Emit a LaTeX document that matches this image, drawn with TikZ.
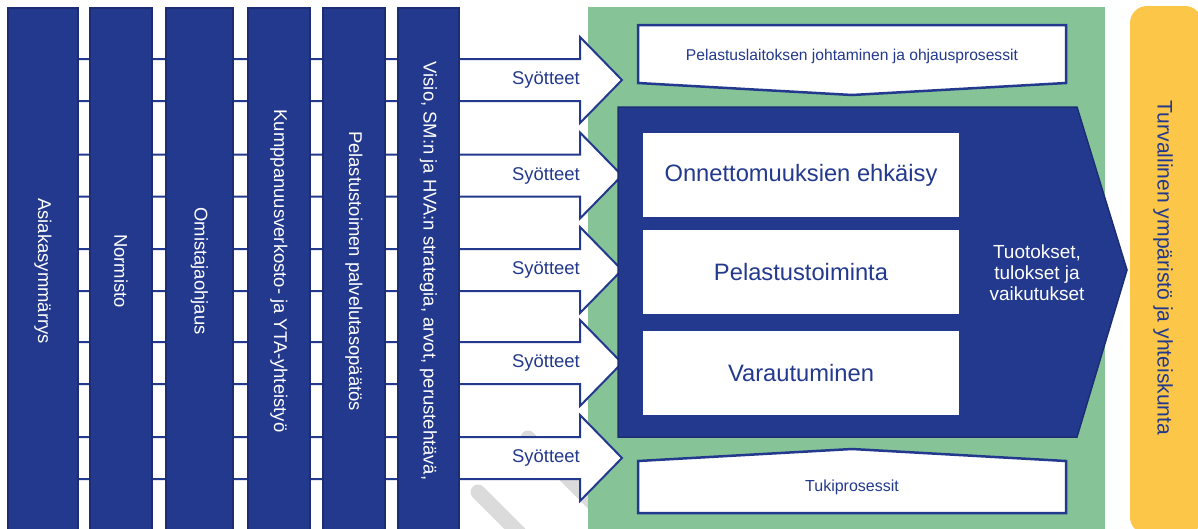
\documentclass[tikz,border=0pt]{standalone}
\usepackage{fontspec}
\setmainfont{Liberation Sans}
\usepackage{xcolor}
\usepackage{tikz}
\usetikzlibrary{positioning,calc}

\definecolor{navy}{RGB}{35,57,141}
\definecolor{navyline}{RGB}{28,45,115}
\definecolor{procgreen}{RGB}{134,196,152}
\definecolor{goalyellow}{RGB}{252,198,72}

\begin{document}
\begin{tikzpicture}[x=0.02cm,y=-0.02cm,
		colbox/.style={fill=navy,draw=navyline,line width=0.03cm},
		coltext/.style={text=white,font=\fontsize{10.5}{12}\selectfont,rotate=-90,inner sep=0pt},
		inarrow/.style={draw=navy,fill=white,line width=0.04cm,line join=miter},
		subbox/.style={draw=navy,fill=white,line width=0.05cm},
		corebox/.style={fill=white,text=navy,minimum width=6.32cm,minimum height=1.68cm,font=\fontsize{13.5}{15}\selectfont,inner sep=0pt}]
			\useasboundingbox (0,0) rectangle (1198,528);
			
			% watermark strokes
			\draw[black!14,line width=0.3cm,line cap=round] (528,438) -- (650,560);
			\draw[black!14,line width=0.3cm,line cap=round] (478,492) -- (570,584);
			
			\fill[procgreen] (588,7) rectangle (1105,535);
			
			\foreach \y [count=\i] in {80,175.5,270,363,458} {
				\draw[inarrow] (40,\y-21) -- (580,\y-21) -- (580,\y-43) -- (622,\y) -- (580,\y+43) -- (580,\y+21) -- (40,\y+21) -- cycle;
				\node[text=navy,font=\fontsize{10.5}{12}\selectfont] (syote\i) at (546,\y) {Syötteet};
			}
			
			\foreach \a/\b/\t [count=\i] in {8/78/Asiakasymmärrys, 90/152/Normisto, 166/233/Omistajaohjaus, 248/310/{Kumppanuusverkosto- ja YTA-yhteistyö}, 323/385/{Pelastustoimen palvelutasopäätös}, 398/459/{Visio, SM:n ja HVA:n strategia, arvot, perustehtävä,}} {
				\draw[colbox] (\a,8) rectangle (\b,540);
				\node[coltext] (col\i) at ({(\a+\b)/2},271) {\t};
			}
			
			\draw[subbox] (638,25) -- (1066,25) -- (1066,83) -- (852,95) -- (638,83) -- cycle;
			\node[text=navy,font=\fontsize{8.9}{10}\selectfont] (johto) at (852,56) {Pelastuslaitoksen johtaminen ja ohjausprosessit};
			
			\draw[fill=navy,draw=navyline,line width=0.03cm] (618,107) -- (1077,107) -- (1127,270) -- (1077,437) -- (618,437) -- cycle;
			\node[corebox] (ehkaisy) at (801,175) {Onnettomuuksien ehkäisy};
			\node[corebox] (toiminta) at (801,272) {Pelastustoiminta};
			\node[corebox] (varautuminen) at (801,373) {Varautuminen};
			\node[text=white,align=center,font=\fontsize{10.8}{11.9}\selectfont] (tuotos) at (1037,273) {Tuotokset,\\tulokset ja\\vaikutukset};
			
			\draw[subbox] (638,513) -- (1066,513) -- (1066,461) -- (852,449) -- (638,461) -- cycle;
			\node[text=navy,font=\fontsize{9.1}{10}\selectfont] (tuki) at (852,487) {Tukiprosessit};
			
			\fill[goalyellow,rounded corners=0.34cm] (1130,6) rectangle (1202,534);
			\node[text=navy,rotate=-90,font=\fontsize{12}{14}\selectfont] (tulos) at (1163,268) {Turvallinen ympäristö ja yhteiskunta};
		\end{tikzpicture}
\end{document}
